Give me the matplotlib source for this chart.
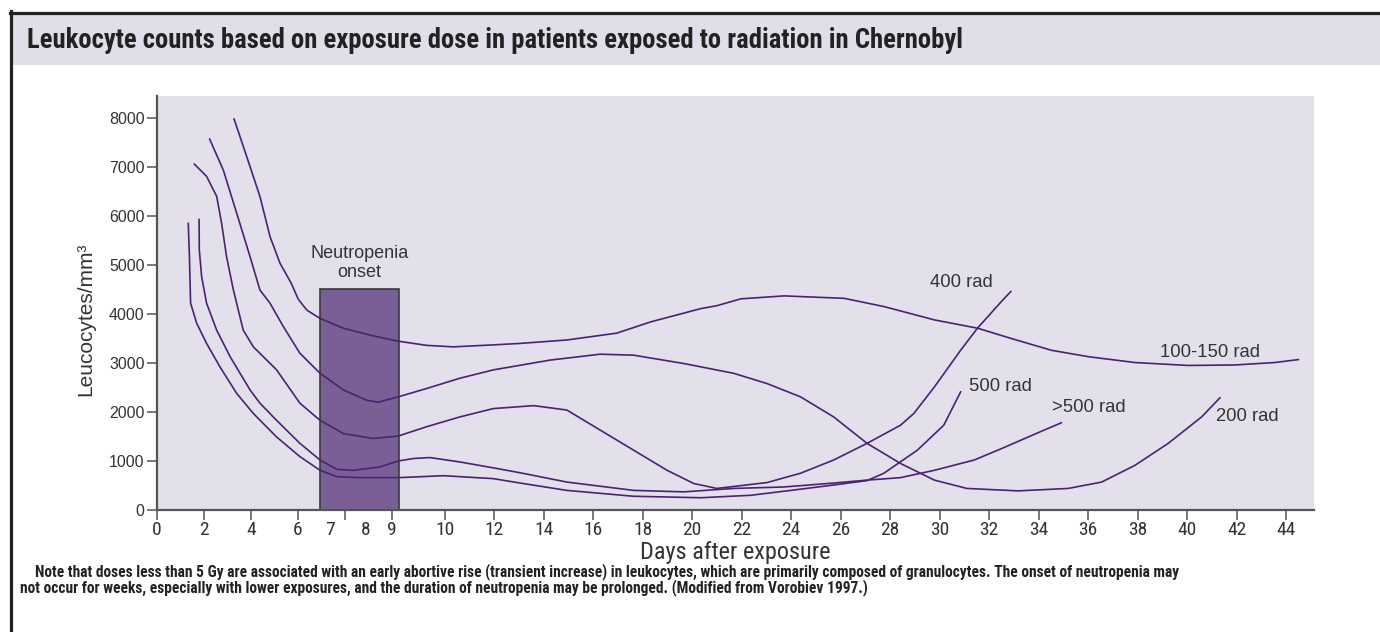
import numpy as np
import matplotlib
matplotlib.use("Agg")
import matplotlib.pyplot as plt
from matplotlib import font_manager
from matplotlib.lines import Line2D
from matplotlib.patches import Rectangle

# --- data (days after exposure, leucocytes/mm3) ---
days_100_150 = [3.28, 3.82, 4.38, 4.81, 5.23, 5.71, 6.01, 6.28, 6.70, 7.38, 8.15, 9.09, 9.66, 10.35, 11.97, 13.05,
                14.94, 16.96, 18.33, 20.35, 21.0, 21.97, 23.72, 26.15, 27.77, 29.79, 31.54, 32.9, 34.52, 36.0,
                37.89, 40.05, 41.93, 43.55, 44.5]
wbc_100_150 = [7970, 7200, 6390, 5570, 5030, 4620, 4290, 4070, 3900, 3700, 3560, 3440, 3350, 3320, 3360, 3390,
               3460, 3600, 3830, 4100, 4160, 4300, 4360, 4310, 4140, 3870, 3700, 3490, 3250, 3120,
               3000, 2940, 2950, 3000, 3060]

days_200 = [2.24, 2.82, 3.39, 3.96, 4.38, 4.81, 5.38, 6.06, 6.70, 7.38, 8.03, 8.47, 9.12, 9.66, 10.62, 11.97,
            14.27, 16.29, 17.64, 19.66, 21.68, 23.03, 24.38, 25.72, 27.07, 28.42, 29.79, 31.1, 33.17, 35.2,
            36.55, 37.89, 39.24, 40.59, 41.33]
wbc_200 = [7560, 6930, 6050, 5160, 4480, 4210, 3730, 3190, 2780, 2440, 2230, 2190, 2300, 2470, 2680, 2850,
           3050, 3170, 3150, 2980, 2780, 2570, 2300, 1890, 1350, 940, 600, 430, 380, 430,
           560, 900, 1350, 1890, 2280]

days_400 = [1.59, 2.11, 2.54, 2.75, 2.96, 3.25, 3.67, 4.10, 5.09, 6.06, 6.70, 7.38, 8.28, 9.12, 9.66, 10.62,
            11.97, 13.6, 14.94, 16.29, 17.64, 18.99, 20.07, 21.0, 23.03, 24.38, 25.72, 27.07, 28.42, 28.96,
            29.79, 30.85, 31.53, 32.49, 32.88]
wbc_400 = [7050, 6800, 6390, 5840, 5160, 4480, 3660, 3320, 2850, 2170, 1820, 1550, 1450, 1500, 1690, 1890,
           2060, 2120, 2030, 1620, 1210, 800, 530, 430, 550, 740, 1010, 1350, 1720, 1960,
           2500, 3250, 3700, 4240, 4450]

days_500 = [1.33, 1.38, 1.43, 1.69, 2.11, 2.68, 3.39, 4.10, 5.09, 6.06, 6.70, 7.20, 7.83, 9.12, 9.98, 11.97,
            13.05, 14.94, 17.64, 20.35, 22.37, 23.99, 25.72, 27.07, 27.75, 29.1, 30.17, 30.85]
wbc_500 = [5840, 5160, 4210, 3800, 3390, 2910, 2370, 1960, 1480, 1080, 800, 670, 650, 650, 690, 630,
           540, 390, 270, 240, 290, 390, 500, 590, 740, 1210, 1720, 2400]

days_gt500 = [1.79, 1.80, 1.90, 2.11, 2.54, 3.11, 3.96, 4.38, 5.09, 6.06, 6.70, 7.20, 7.65, 8.54, 9.12, 9.40,
              9.72, 10.62, 11.97, 13.05, 14.94, 17.64, 19.66, 21.68, 23.72, 25.72, 27.07, 28.42, 29.79, 31.4,
              32.49, 33.9, 34.92]
wbc_gt500 = [5920, 5300, 4750, 4210, 3660, 3120, 2440, 2170, 1820, 1350, 1010, 820, 800, 870, 990, 1040,
             1060, 970, 850, 750, 560, 390, 360, 430, 460, 540, 600, 650, 800, 1010,
             1240, 1550, 1770]

onset_start = 6.71
onset_end = 9.13
onset_height = 4500

x_tick_days = [0, 2, 4, 6, 7, 8, 9] + list(range(10, 46, 2))
y_ticks = list(range(0, 8001, 1000))

title = "Leukocyte counts based on exposure dose in patients exposed to radiation in Chernobyl"
note1 = ("Note that doses less than 5 Gy are associated with an early abortive rise (transient increase) in leukocytes, "
         "which are primarily composed of granulocytes. The onset of neutropenia may")
note2 = ("not occur for weeks, especially with lower exposures, and the duration of neutropenia may be prolonged. "
         "(Modified from Vorobiev 1997.)")

# the printed x axis is not linear: piecewise mapping day -> position
knot_days = [-10, 0, 6, 7, 8, 9, 10, 44, 60]
knot_pos = [-78, 157, 298, 329.5, 366, 392, 444.6, 1286, 1682]


def fwd(d):
    return np.interp(d, knot_days, knot_pos)


def inv(p):
    return np.interp(p, knot_pos, knot_days)


# look for a condensed face, the original uses condensed Helvetica
def pick_condensed():
    fonts = font_manager.fontManager.ttflist
    names = {f.name for f in fonts}
    for n in ["Liberation Sans Narrow", "Roboto Condensed", "Open Sans Condensed", "Noto Sans Condensed",
              "DejaVu Sans Condensed"]:
        if n in names:
            return n, "normal"
    for n in ["Noto Sans", "DejaVu Sans", "Open Sans", "Roboto", "Inter"]:
        for f in fonts:
            st = f.stretch
            if f.name == n and (st in ("condensed", "semi-condensed", "extra-condensed")
                                or (isinstance(st, int) and st < 500)):
                return n, "condensed"
    return None, None


cond_name, cond_stretch = pick_condensed()
if cond_name:
    narrow = dict(family=[cond_name, "DejaVu Sans"], stretch=cond_stretch)
    k = 1.0
else:
    narrow = dict(family=["Liberation Sans", "DejaVu Sans"])
    k = 0.82
regular = dict(family=["Liberation Sans", "DejaVu Sans"])

line_col = "#4a2370"
txt_col = "#333333"

fig = plt.figure(figsize=(13.8, 6.32), dpi=100)
W, H = 1380, 632

# title band and frame
fig.add_artist(Rectangle((11 / W, 1 - 65 / H), 1, 51 / H, transform=fig.transFigure,
                         facecolor="#e1dde9", edgecolor="none"))
fig.add_artist(Line2D([11 / W, 11 / W], [0, 1 - 11 / H], transform=fig.transFigure, color="#222222", lw=2.3))
fig.add_artist(Line2D([10 / W, 1], [1 - 13 / H, 1 - 13 / H], transform=fig.transFigure, color="#222222", lw=2.3))
fig.text(27 / W, 1 - 40 / H, title, fontweight="bold", fontsize=19.2 * k,
         color="#222222", va="center", ha="left", **narrow)

ax = fig.add_axes([157 / W, 1 - 509.5 / H, (1314 - 157) / W, (509.5 - 96) / H])
ax.set_facecolor("#e3e0ec")
ax.set_xscale("function", functions=(fwd, inv))
ax.set_xlim(0, 45.13)
ax.set_ylim(0, 8440)

ax.bar([onset_start], [onset_height], width=onset_end - onset_start, align="edge",
       color="#7a5f96", edgecolor="#3a3a3a", linewidth=1.2, zorder=2)
ax.text((onset_start + onset_end) / 2 - 0.1, onset_height + 170, "Neutropenia\nonset", ha="center", va="bottom",
        fontsize=13, color=txt_col, linespacing=1.15, **regular)

for d, v in [(days_100_150, wbc_100_150), (days_200, wbc_200), (days_400, wbc_400),
             (days_500, wbc_500), (days_gt500, wbc_gt500)]:
    ax.plot(d, v, color=line_col, lw=1.2, zorder=3)

labels = [("400 rad", 29.62, 4630), ("500 rad", 31.2, 2505), (">500 rad", 34.54, 2080),
          ("100-150 rad", 38.89, 3200), ("200 rad", 41.16, 1890)]
for s, d, v in labels:
    ax.text(d, v, s, ha="left", va="center", fontsize=13.3, color=txt_col, **regular)

for side in ["top", "right"]:
    ax.spines[side].set_visible(False)
for side in ["left", "bottom"]:
    ax.spines[side].set_color("#555555")
    ax.spines[side].set_linewidth(1.6)

ax.set_yticks(y_ticks)
ax.set_yticklabels([str(t) for t in y_ticks], fontsize=11.5, color=txt_col, **regular)
ax.set_xticks(x_tick_days)
ax.set_xticklabels([str(t) for t in x_tick_days], fontsize=14 * k, color=txt_col, **narrow)
ax.set_xticks([7.42], minor=True)
ax.tick_params(axis="both", which="both", direction="out", length=7, width=1.1, color="#555555")
ax.tick_params(axis="y", pad=2)
ax.tick_params(axis="x", pad=1)
for t in ax.xaxis.get_major_ticks():
    if t.get_loc() in (7, 8):
        t.tick1line.set_visible(False)

ax.set_xlabel("Days after exposure", fontsize=17.5 * k, color=txt_col, labelpad=2, **narrow)
ax.set_ylabel("Leucocytes/mm³", fontsize=15, color=txt_col, **regular)
ax.yaxis.set_label_coords(-0.053, 0.46)

fig.text(35 / W, 1 - 572 / H, note1, fontweight="bold", fontsize=11.2 * k, color="#222222",
         ha="left", va="center", **narrow)
fig.text(20 / W, 1 - 587.5 / H, note2, fontweight="bold", fontsize=11.2 * k, color="#222222",
         ha="left", va="center", **narrow)

fig.savefig("out.png", dpi=100)
